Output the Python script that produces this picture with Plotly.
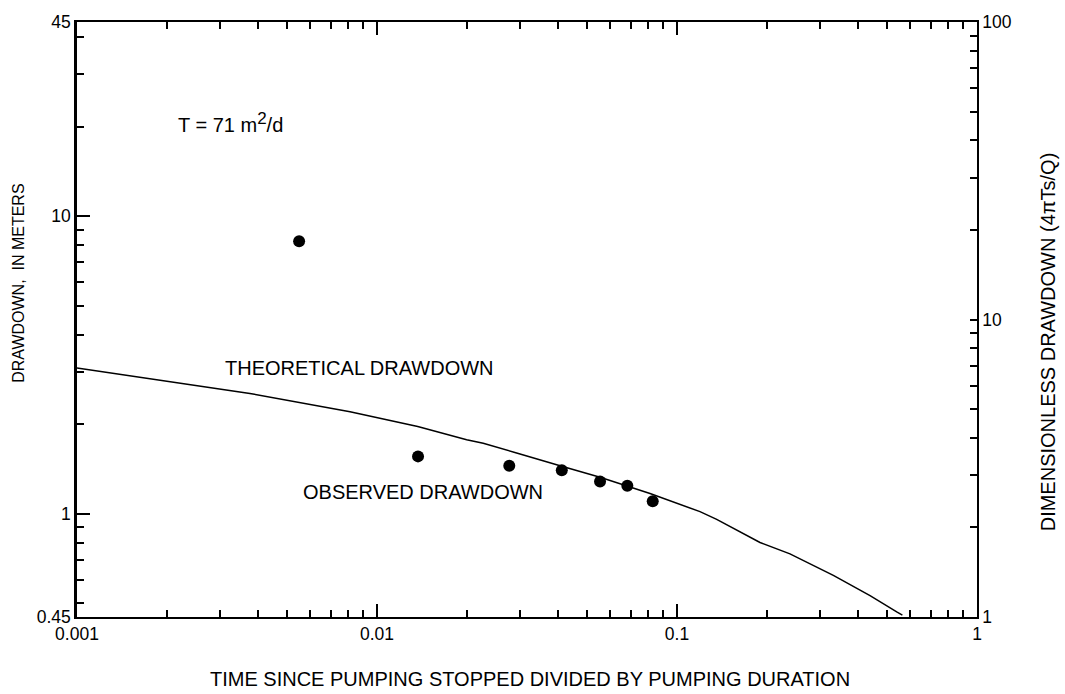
import plotly.graph_objects as go

# ---- data ----
obs_time_ratio = [0.0055, 0.0137, 0.0276, 0.0413, 0.0554, 0.0683, 0.0830]
obs_drawdown_m = [8.25, 1.56, 1.45, 1.40, 1.285, 1.243, 1.103]

theo_time_ratio = [0.001, 0.00175, 0.00377, 0.00813, 0.01367, 0.0199, 0.0226, 0.0292,
                   0.0377, 0.0413, 0.0554, 0.0813, 0.1193, 0.1356, 0.1891, 0.238,
                   0.332, 0.44, 0.54, 0.564]
theo_dimless = [6.87, 6.32, 5.64, 4.90, 4.37, 3.94, 3.84, 3.56,
                3.29, 3.21, 2.95, 2.60, 2.26, 2.13, 1.78, 1.63,
                1.38, 1.18, 1.04, 1.015]

x_major = [0.001, 0.01, 0.1, 1]
x_major_text = ["0.001", "0.01", "0.1", "1"]
y_major = [0.45, 1, 10, 45]
y_major_text = ["0.45", "1", "10", "45"]
y2_major = [1, 10, 100]
y2_major_text = ["1", "10", "100"]

x_minor = [m * d for d in [0.001, 0.01, 0.1] for m in range(2, 10)]
y_minor = [v for v in [m * d for d in [0.1, 1, 10] for m in range(2, 10)] if 0.45 < v < 45]
y2_minor = [m * d for d in [1, 10] for m in range(2, 10)]

FONT = "Liberation Sans, Arial, Helvetica, sans-serif"

fig = go.Figure()
fig.add_trace(go.Scatter(x=theo_time_ratio, y=theo_dimless, mode="lines",
                         line=dict(color="black", width=1.5), yaxis="y2",
                         showlegend=False, hoverinfo="skip"))
fig.add_trace(go.Scatter(x=obs_time_ratio, y=obs_drawdown_m, mode="markers",
                         marker=dict(color="black", size=12), showlegend=False))

L, R, T, B = 77, 88, 17, 77
W, H = 1065, 694
PW, PH = W - L - R, H - T - B


def px(xp):
    return (xp - L) / PW


def py(yp):
    return (H - B - yp) / PH


fig.update_layout(
    width=W, height=H, autosize=False,
    margin=dict(l=L, r=R, t=T, b=B, pad=0),
    paper_bgcolor="white", plot_bgcolor="white",
    font=dict(family=FONT, color="black", size=17.5),
    xaxis=dict(type="log", range=[-3, 0], tickmode="array", tickvals=x_major,
               ticktext=x_major_text, ticks="inside", ticklen=13, tickwidth=1.5,
               tickcolor="black", showline=True, linecolor="black", linewidth=2,
               mirror="ticks", showgrid=False, zeroline=False,
               minor=dict(tickmode="array", tickvals=x_minor, ticks="inside",
                          ticklen=7, tickwidth=1.5, tickcolor="black", showgrid=False)),
    yaxis=dict(type="log", range=[-0.346787, 1.653213], tickmode="array",
               tickvals=y_major, ticktext=y_major_text, ticks="inside", ticklen=13,
               tickwidth=1.5, tickcolor="black", showline=True, linecolor="black",
               linewidth=2.5, mirror=False, showgrid=False, zeroline=False,
               minor=dict(tickmode="array", tickvals=y_minor, ticks="inside",
                          ticklen=7, tickwidth=1.5, tickcolor="black", showgrid=False)),
    yaxis2=dict(type="log", range=[0, 2], overlaying="y", side="right",
                tickmode="array", tickvals=y2_major, ticktext=y2_major_text,
                ticks="inside", ticklen=7, tickwidth=1.5, tickcolor="black",
                showline=True, linecolor="black", linewidth=1.5, showgrid=False,
                zeroline=False,
                minor=dict(tickmode="array", tickvals=y2_minor, ticks="inside",
                           ticklen=7, tickwidth=1.5, tickcolor="black", showgrid=False)),
)

ann = [
    dict(text="T = 71 m<sup><span style='font-size:17px'>2</span></sup>/d",
         x=px(176), y=py(118), xanchor="left", yanchor="middle", font=dict(size=20)),
    dict(text="THEORETICAL DRAWDOWN", x=px(359), y=py(366), xanchor="center",
         yanchor="middle", font=dict(size=20)),
    dict(text="OBSERVED DRAWDOWN", x=px(423), y=py(491), xanchor="center",
         yanchor="middle", font=dict(size=20)),
    dict(text="TIME SINCE PUMPING STOPPED DIVIDED BY PUMPING DURATION", x=px(530),
         y=py(680), xanchor="center", yanchor="middle", font=dict(size=20)),
    dict(text="DRAWDOWN,  IN METERS", x=px(19), y=py(281), textangle=-90,
         xanchor="center", yanchor="middle", font=dict(size=16)),
    dict(text="DIMENSIONLESS DRAWDOWN (4πTs/Q)", x=px(1048), y=py(340),
         textangle=-90, xanchor="center", yanchor="middle", font=dict(size=20)),
]
for a in ann:
    a.update(xref="paper", yref="paper", showarrow=False)
fig.update_layout(annotations=ann)

fig.write_html("out.html")
